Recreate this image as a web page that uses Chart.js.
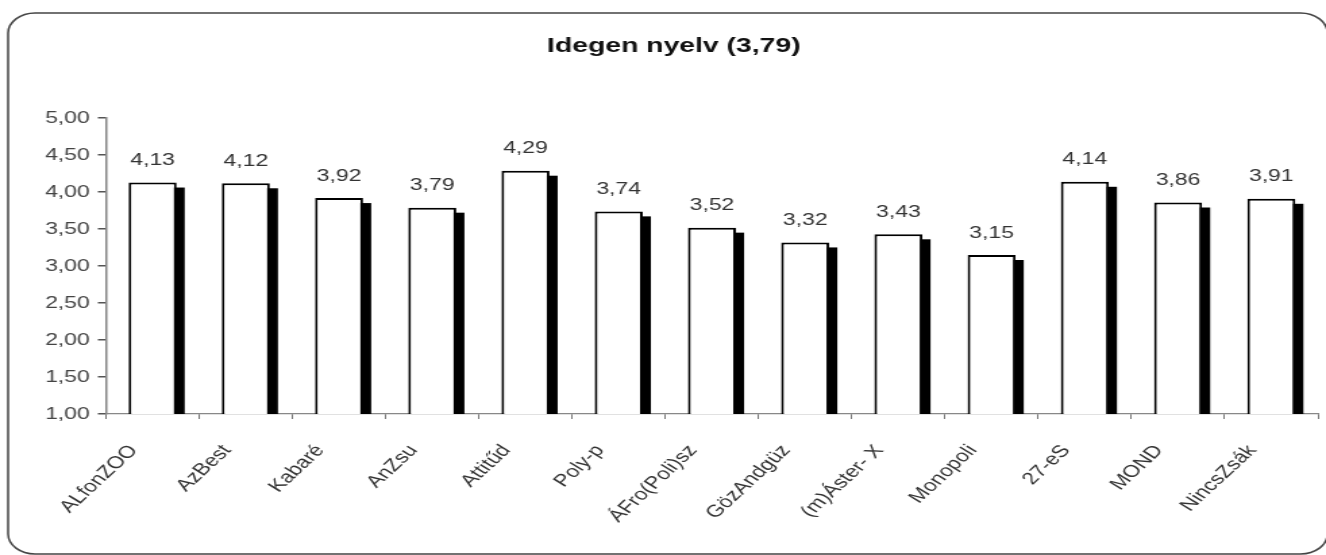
<!DOCTYPE html>
<html><head><meta charset="utf-8">
<script src="https://cdn.jsdelivr.net/npm/chart.js@4.4.1/dist/chart.umd.min.js"></script>
<style>html,body{margin:0;padding:0;background:#fff;overflow:hidden}</style>
</head><body>
<canvas id="c" width="982" height="555" style="display:block;width:1326px;height:555px"></canvas>
<script>
const titleText = 'Idegen nyelv (3,79)';
const categories = ['ALfonZOO','AzBest','Kabaré','AnZsu','Attitűd','Poly-p','ÁFro(Poli)sz','GözAndgüz','(m)Áster- X','Monopoli','27-eS','MOND','NincsZsák'];
const values = [4.13,4.12,3.92,3.79,4.29,3.74,3.52,3.32,3.43,3.15,4.14,3.86,3.91];
const yMin = 1, yMax = 5, yStep = 0.5;

const FONT = "'Liberation Sans', Arial, sans-serif";
const fmt = v => Number(v).toFixed(2).replace('.', ',');

const framePlugin = {
  id: 'frame',
  beforeDraw(chart) {
    const ctx = chart.ctx;
    ctx.save();
    ctx.fillStyle = '#fff';
    ctx.fillRect(0, 0, chart.width, chart.height);
    ctx.beginPath();
    ctx.roundRect(6, 13, 977, 541, 20);
    ctx.lineWidth = 1.5;
    ctx.strokeStyle = '#444';
    ctx.stroke();
    ctx.restore();
  },
  beforeDatasetsDraw(chart) {
    const ctx = chart.ctx, a = chart.chartArea;
    ctx.save();
    ctx.beginPath();
    ctx.rect(a.left, a.top - 40, a.right - a.left, a.bottom - a.top + 40);
    ctx.clip();
    ctx.fillStyle = '#000';
    chart.getDatasetMeta(0).data.forEach(b => {
      const w = b.width;
      ctx.fillRect(b.x - w / 2 + 6, b.y + 5, w, b.base - b.y);
    });
    ctx.restore();
  },
  afterDatasetsDraw(chart) {
    const ctx = chart.ctx;
    ctx.save();
    ctx.font = '17px ' + FONT;
    ctx.fillStyle = '#333';
    ctx.textAlign = 'center';
    ctx.textBaseline = 'middle';
    chart.getDatasetMeta(0).data.forEach((b, i) => {
      ctx.fillText(fmt(values[i]), b.x, b.y - 22);
    });
    ctx.restore();
  }
};

new Chart(document.getElementById('c'), {
  type: 'bar',
  data: {
    labels: categories,
    datasets: [{
      data: values,
      backgroundColor: '#fff',
      borderColor: '#000',
      borderWidth: 2,
      borderSkipped: false,
      categoryPercentage: 1,
      barPercentage: 0.515
    }]
  },
  options: {
    responsive: false,
    animation: false,
    devicePixelRatio: 1,
    layout: { padding: { left: 22, right: 6, top: 0, bottom: 0 } },
    plugins: {
      legend: { display: false },
      tooltip: { enabled: false },
      title: {
        display: true,
        text: titleText,
        color: '#111',
        font: { family: FONT, size: 21, weight: 'bold' },
        padding: { top: 34, bottom: 59 }
      }
    },
    scales: {
      x: {
        afterFit: s => { s.height = 141; },
        grid: { drawOnChartArea: false, tickLength: 5, color: '#777', offset: true },
        border: { display: true, color: '#888', width: 1.2 },
        ticks: {
          autoSkip: false, minRotation: 51, maxRotation: 51,
          color: '#333', padding: 22, labelOffset: -14,
          font: { family: FONT, size: 17 }
        }
      },
      y: {
        min: yMin, max: yMax,
        afterFit: s => { s.width = 56.5; },
        grid: { drawOnChartArea: false, tickLength: 6, color: '#555', lineWidth: 1.5 },
        border: { display: true, color: '#888', width: 1.5 },
        ticks: {
          stepSize: yStep, color: '#444', padding: 6,
          font: { family: FONT, size: 17 },
          callback: v => fmt(v)
        }
      }
    }
  },
  plugins: [framePlugin]
});
</script>
</body></html>
